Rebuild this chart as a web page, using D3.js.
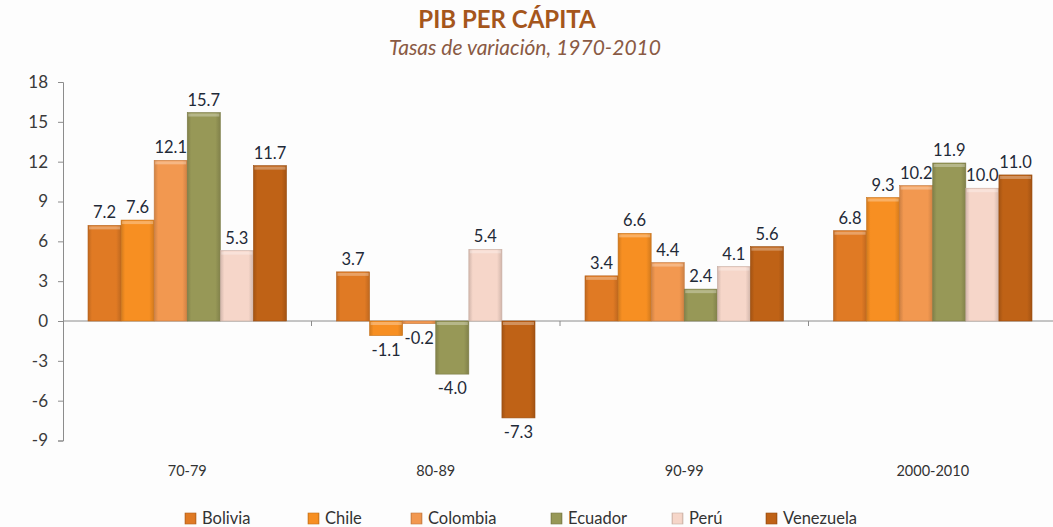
<!DOCTYPE html>
<html lang="es">
<head>
<meta charset="UTF-8">
<title>PIB per cápita</title>
<script src="https://d3js.org/d3.v7.min.js"></script>
<style>
  body { margin: 0; background: #fdfdfd; }
  svg { font-family: Lato, "Open Sans", sans-serif; }
</style>
</head>
<body>
<svg id="chart" width="1053" height="527"></svg>
<script>
// periods and countries
var periods = ["70-79", "80-89", "90-99", "2000-2010"];
var countries = ["Bolivia", "Chile", "Colombia", "Ecuador", "Perú", "Venezuela"];
var bolivia   = [7.2, 3.7, 3.4, 6.8];
var chile     = [7.6, -1.1, 6.6, 9.3];
var colombia  = [12.1, -0.2, 4.4, 10.2];
var ecuador   = [15.7, -4.0, 2.4, 11.9];
var peru      = [5.3, 5.4, 4.1, 10.0];
var venezuela = [11.7, -7.3, 5.6, 11.0];
var yTicks = [-9, -6, -3, 0, 3, 6, 9, 12, 15, 18];

var seriesValues = [bolivia, chile, colombia, ecuador, peru, venezuela];
var colors = ["#e07a24", "#f78f22", "#f29850", "#979857", "#f6d6c9", "#bf6216"];

// plain hyphen for negatives, like the original
function fmt(v) { return v.toFixed(1); }

var svg = d3.select("#chart");

var x0 = d3.scaleBand().domain(periods).range([63, 1057]).paddingInner(0).paddingOuter(0);
var x1 = d3.scaleBand().domain(countries).range([25, x0.bandwidth() - 25]);
var y = d3.scaleLinear().domain([-9, 18]).range([440.5, 82]);

// gradients for the beveled look
var defs = svg.append("defs");
colors.forEach(function(c, i) {
  var g = defs.append("linearGradient").attr("id", "g" + i)
    .attr("x1", "0").attr("x2", "1").attr("y1", "0").attr("y2", "0");
  var dark = d3.color(c).darker(0.45);
  g.append("stop").attr("offset", "0%").attr("stop-color", dark);
  g.append("stop").attr("offset", "12%").attr("stop-color", c);
  g.append("stop").attr("offset", "85%").attr("stop-color", c);
  g.append("stop").attr("offset", "100%").attr("stop-color", dark);
});

// title
svg.append("text").attr("x", 507).attr("y", 28).attr("text-anchor", "middle")
  .attr("font-size", 24).attr("font-weight", "bold").attr("fill", "#a5561c")
  .text("PIB PER CÁPITA");
svg.append("text").attr("x", 525).attr("y", 55).attr("text-anchor", "middle")
  .attr("font-size", 21).attr("font-style", "italic").attr("fill", "#8a5a44")
  .text("Tasas de variación, 1970-2010");

// y axis
var yAxis = svg.append("g").attr("transform", "translate(63,0)")
  .call(d3.axisLeft(y).tickValues(yTicks).tickSize(5).tickPadding(10)
    .tickFormat(function(d) { return String(d); }));
yAxis.select(".domain").attr("stroke", "#8c8c8c");
yAxis.selectAll(".tick line").attr("stroke", "#8c8c8c");
yAxis.selectAll(".tick text").attr("font-size", 17).attr("fill", "#3a3a3a")
  .attr("font-family", "Lato, sans-serif");

// zero line with category ticks
var zero = y(0);
svg.append("line").attr("x1", 63).attr("x2", 1057).attr("y1", zero).attr("y2", zero)
  .attr("stroke", "#8c8c8c");
svg.append("g").selectAll("line")
  .data(periods.slice(1))
  .enter().append("line")
  .attr("x1", function(d) { return x0(d); }).attr("x2", function(d) { return x0(d); })
  .attr("y1", zero).attr("y2", zero + 5).attr("stroke", "#8c8c8c");

// bars
var groups = svg.append("g").selectAll("g")
  .data(periods)
  .enter().append("g")
  .attr("transform", function(d) { return "translate(" + x0(d) + ",0)"; });

var bars = groups.selectAll("g")
  .data(function(d, pi) {
    return countries.map(function(c, ci) { return { country: c, ci: ci, value: seriesValues[ci][pi] }; });
  })
  .enter().append("g");

bars.append("rect")
  .attr("x", function(d) { return x1(d.country); })
  .attr("width", x1.bandwidth())
  .attr("y", function(d) { return y(Math.max(0, d.value)); })
  .attr("height", function(d) { return Math.abs(y(d.value) - y(0)); })
  .attr("fill", function(d) { return "url(#g" + d.ci + ")"; })
  .attr("stroke", function(d) { return d3.color(colors[d.ci]).darker(0.6); })
  .attr("stroke-width", 0.6);

// top highlight
bars.filter(function(d) { return Math.abs(y(d.value) - y(0)) > 6; })
  .append("rect")
  .attr("x", function(d) { return x1(d.country) + 1; })
  .attr("width", x1.bandwidth() - 2)
  .attr("y", function(d) { return y(Math.max(0, d.value)) + 1; })
  .attr("height", 3)
  .attr("fill", "#fff").attr("opacity", 0.3);

// value labels
bars.append("text")
  .attr("x", function(d) { return x1(d.country) + x1.bandwidth() / 2; })
  .attr("y", function(d) { return d.value >= 0 ? y(d.value) - 7 : y(d.value) + 20; })
  .attr("text-anchor", "middle")
  .attr("font-size", 16.5).attr("fill", "#1f2a38")
  .text(function(d) { return fmt(d.value); });

// category labels
svg.append("g").selectAll("text")
  .data(periods)
  .enter().append("text")
  .attr("x", function(d) { return x0(d) + x0.bandwidth() / 2; })
  .attr("y", 476)
  .attr("text-anchor", "middle")
  .attr("font-size", 14.5).attr("fill", "#333")
  .text(function(d) { return d; });

// legend
var legendX = [185, 308, 411, 551, 672, 766];
var legend = svg.append("g").selectAll("g")
  .data(countries)
  .enter().append("g")
  .attr("transform", function(d, i) { return "translate(" + legendX[i] + ",513)"; });
legend.append("rect").attr("width", 11).attr("height", 11)
  .attr("fill", function(d, i) { return "url(#g" + i + ")"; })
  .attr("stroke", function(d, i) { return d3.color(colors[i]).darker(0.6); })
  .attr("stroke-width", 0.6);
legend.append("text").attr("x", 17).attr("y", 11)
  .attr("font-size", 16.5).attr("fill", "#333")
  .text(function(d) { return d; });
</script>
</body>
</html>
